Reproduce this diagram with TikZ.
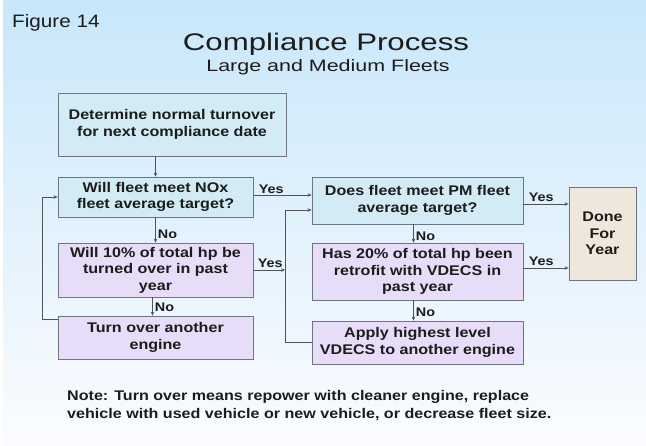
\documentclass[tikz,border=0pt]{standalone}
\usepackage{fontspec}
\setmainfont{Liberation Sans}
\newfontfamily\boxfont{Liberation Sans}[FakeStretch=1.15]
\newfontfamily\titlefont{Liberation Sans}[FakeStretch=1.3]
\usetikzlibrary{arrows.meta}
\definecolor{bgtop}{HTML}{C8E7FA}
\definecolor{bgmid}{HTML}{E2F1FC}
\definecolor{bgbot}{HTML}{FBFCFF}
\definecolor{bluebox}{HTML}{D2EBF4}
\definecolor{purplebox}{HTML}{E8DDF8}
\definecolor{beigebox}{HTML}{EFE7DB}
\definecolor{boxline}{HTML}{6E7480}
\definecolor{conn}{HTML}{505258}
\definecolor{ink}{HTML}{1C1C1C}
\begin{document}
\begin{tikzpicture}[x=1pt,y=-1pt,
  box/.style={draw=boxline, line width=0.8pt, inner sep=2pt, align=center, text=ink,
    font=\boxfont\bfseries\fontsize{14}{16.5}\selectfont},
  bbox/.style={box, fill=bluebox},
  pbox/.style={box, fill=purplebox},
  lab/.style={font=\boxfont\bfseries\fontsize{12.5}{14}\selectfont, inner sep=1pt, text=ink},
  arr/.style={draw=conn, line width=0.8pt, -{Stealth[length=4pt,width=3.5pt]}},
  ln/.style={draw=conn, line width=0.8pt}]
\useasboundingbox (0,0) rectangle (646,445);
\shade[top color=bgtop, middle color=bgmid, bottom color=bgbot] (0,0) rectangle (646,445);
\fill[white] (0,0) rectangle (3,445);

% titles
\node[anchor=base west, inner sep=0, text=ink, font=\boxfont\fontsize{18}{20}\selectfont] (fig) at (12,27) {Figure 14};
\node[anchor=base, inner sep=0, text=ink, font=\titlefont\fontsize{24}{28}\selectfont] (title) at (326,50) {Compliance Process};
\node[anchor=base, inner sep=0, text=ink, font=\titlefont\fontsize{16.5}{20}\selectfont] (sub) at (328,71) {Large and Medium Fleets};

% boxes
\node[bbox, minimum width=228, minimum height=63] (det) at (172,124.5) {Determine normal turnover\\for next compliance date};
\node[bbox, minimum width=195, minimum height=40] (nox) at (155.5,197) {Will fleet meet NOx\\fleet average target?};
\node[pbox, minimum width=195, minimum height=54] (w10) at (155.5,270) {Will 10\% of total hp be\\turned over in past\\year};
\node[pbox, minimum width=195, minimum height=43] (turn) at (155.5,337.5) {Turn over another\\engine};
\node[bbox, minimum width=211, minimum height=47] (pm) at (417.5,200.5) {Does fleet meet PM fleet\\average target?};
\node[pbox, minimum width=211, minimum height=57] (h20) at (417.5,271.5) {Has 20\% of total hp been\\retrofit with VDECS in\\past year};
\node[pbox, minimum width=211, minimum height=43] (apply) at (417.5,342.5) {Apply highest level\\VDECS to another engine};
\node[box, fill=beigebox, minimum width=67, minimum height=93] (done) at (602.5,233.5) {Done\\For\\Year};

\coordinate (vx) at (285,0);
\coordinate (lx) at (42,0);

% connectors
\draw[arr] (det.south -| nox.north) -- (nox.north);
\draw[arr] (nox.south) -- node[lab, right, pos=0.65, xshift=1pt]{No} (w10.north);
\draw[arr] ([xshift=-3pt]w10.south) -- node[lab, right, pos=0.55, xshift=1pt]{No} ([xshift=-3pt]turn.north);
\draw[arr] ([yshift=-4pt]turn.north west) -- ([yshift=-4pt]turn.north west -| lx) |- (nox.west);
\draw[arr] ([yshift=2pt]nox.east) -- node[lab, anchor=south west, pos=0, xshift=4pt]{Yes} ([yshift=2pt]nox.east -| pm.west);
\draw[arr] (w10.east) -- node[lab, anchor=south west, pos=0, xshift=3pt, yshift=1pt]{Yes} (w10.east -| vx);
\draw[arr] (apply.west) -- (apply.west -| vx) |- ([yshift=-9.5pt]pm.west);
\draw[arr] ([xshift=-4pt]pm.south) -- node[lab, right, pos=0.65, xshift=1pt]{No} ([xshift=-4pt]h20.north);
\draw[arr] ([xshift=-4pt]h20.south) -- node[lab, right, pos=0.6, xshift=1pt]{No} ([xshift=-4pt]apply.north);
\draw[arr] ([yshift=-3.5pt]pm.east) -- node[lab, anchor=south west, pos=0, xshift=4pt, yshift=1pt]{Yes} ([yshift=-3.5pt]pm.east -| done.west);
\draw[arr] ([yshift=3.5pt]h20.east) -- node[lab, anchor=south west, pos=0, xshift=4pt, yshift=1pt]{Yes} ([yshift=3.5pt]h20.east -| done.west);

% note
\node[anchor=north west, inner sep=0, align=left, text=ink, font=\boxfont\bfseries\fontsize{14}{18}\selectfont] (note) at (67,390)
  {Note: Turn over means repower with cleaner engine, replace\\vehicle with used vehicle or new vehicle, or decrease fleet size.};
\end{tikzpicture}
\end{document}
